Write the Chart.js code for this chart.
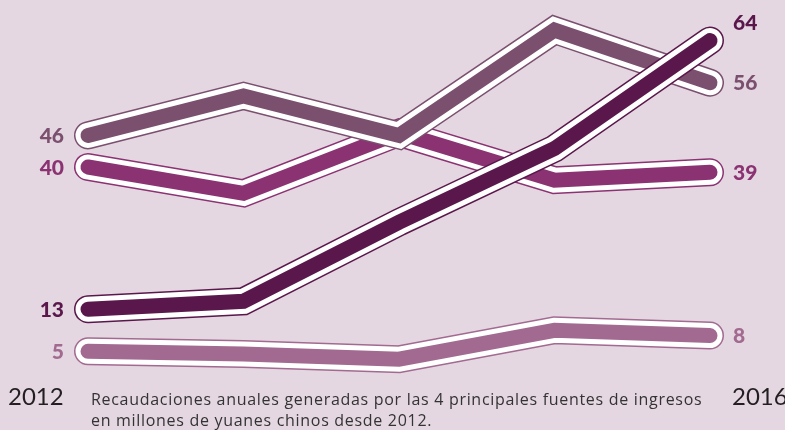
<!DOCTYPE html>
<html>
<head>
<meta charset="utf-8">
<script src="https://cdn.jsdelivr.net/npm/chart.js@4"></script>
<style>
  html, body { margin: 0; padding: 0; background: #e4d7e1; }
  #wrap { position: relative; width: 785px; height: 430px; overflow: hidden; }
  canvas { position: absolute; left: 0; top: 0; }
  .year { position: absolute; top: 382px; font: 24px/28px Lato, "Open Sans", sans-serif; color: #231f20; }
  .caption { position: absolute; left: 91px; top: 389px; font: 16px/21px "Open Sans", Lato, sans-serif; letter-spacing: 0.7px; color: #333; }
</style>
</head>
<body>
<div id="wrap">
  <canvas id="chart" width="785" height="430"></canvas>
  <div class="year" style="left:8px">2012</div>
  <div class="year" style="left:732px">2016</div>
  <div class="caption">Recaudaciones anuales generadas por las 4 principales fuentes de ingresos<br>en millones de yuanes chinos desde 2012.</div>
</div>
<script>
const years = ["2012", "2013", "2014", "2015", "2016"];

// drawn from top layer to bottom layer
const seriesNames = ["Fuente A", "Fuente B", "Fuente C", "Fuente D"];
const darkValues = [13, 14.5, 29.5, 43.5, 64];
const mauveValues = [46, 53.5, 46, 66, 56];
const pinkValues = [40, 35, 46.5, 37.5, 39];
const lightValues = [5, 4.5, 3.5, 9, 8];

const seriesValues = [darkValues, mauveValues, pinkValues, lightValues];
const seriesColors = ["#5a174b", "#7b4f6e", "#8b3272", "#a26a90"];

const datasets = [];
seriesValues.forEach((values, i) => {
  const color = seriesColors[i];
  const layers = [
    { w: 28, c: color },
    { w: 25, c: "#ffffff" },
    { w: 15, c: color },
  ];
  layers.forEach((layer, j) => {
    datasets.push({
      label: seriesNames[i],
      data: values,
      borderColor: layer.c,
      borderWidth: layer.w,
      borderCapStyle: "round",
      borderJoinStyle: "miter",
      pointRadius: 0,
      tension: 0,
      fill: false,
      clip: false,
      order: i * 3 + (2 - j),
    });
  });
});

const valueLabels = {
  id: "valueLabels",
  afterDatasetsDraw(chart) {
    const { ctx, scales } = chart;
    ctx.save();
    ctx.font = "900 21px Lato, 'Open Sans', sans-serif";
    ctx.textBaseline = "middle";
    seriesValues.forEach((values, i) => {
      ctx.fillStyle = seriesColors[i];
      const first = values[0];
      const last = values[values.length - 1];
      ctx.textAlign = "right";
      ctx.fillText(first, scales.x.getPixelForValue(0) - 24, scales.y.getPixelForValue(first) + 1);
      ctx.textAlign = "left";
      const dy = i === 0 ? -17 : 1;
      ctx.fillText(last, scales.x.getPixelForValue(values.length - 1) + 23, scales.y.getPixelForValue(last) + dy);
    });
    ctx.restore();
  },
};

new Chart(document.getElementById("chart").getContext("2d"), {
  type: "line",
  data: { labels: years, datasets },
  options: {
    responsive: false,
    animation: false,
    layout: { padding: { left: 88, right: 75, top: 9, bottom: 26 } },
    plugins: { legend: { display: false }, tooltip: { enabled: false } },
    scales: {
      x: { display: false, offset: false },
      y: { display: false, min: -5, max: 70 },
    },
  },
  plugins: [valueLabels],
});
</script>
</body>
</html>
